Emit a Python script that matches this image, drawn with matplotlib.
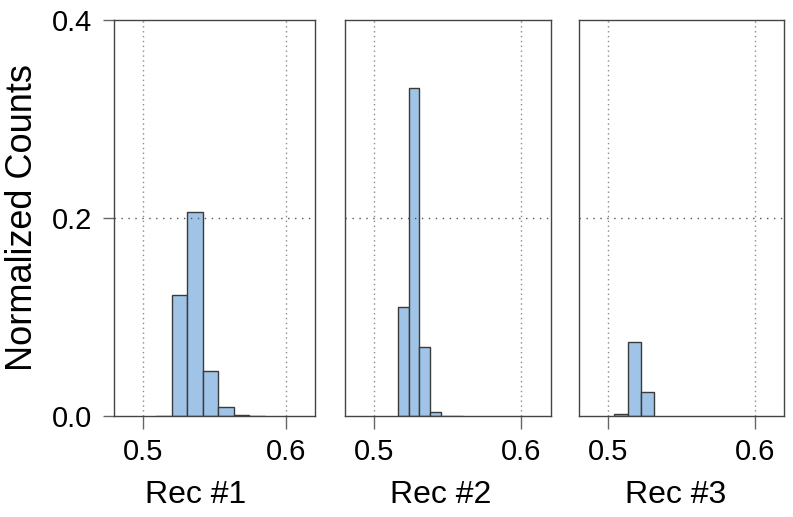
import matplotlib
matplotlib.use('Agg')
import matplotlib.pyplot as plt

plt.rcParams['font.family'] = ['Liberation Sans', 'DejaVu Sans']

# histogram data per record: left edge of first bin, bin width, normalized counts
rec_names = ['Rec #1', 'Rec #2', 'Rec #3']
rec1_start, rec1_width = 0.5095, 0.0108
rec1_counts = [0.0005, 0.122, 0.2057, 0.0458, 0.0088, 0.001, 0.0003]
rec2_start, rec2_width = 0.5159, 0.0074
rec2_counts = [0.1096, 0.331, 0.0695, 0.0037, 0.0004, 0.0002]
rec3_start, rec3_width = 0.5041, 0.009
rec3_counts = [0.002, 0.0748, 0.0245]

x_ticks = [0.5, 0.6]
y_ticks = [0.0, 0.2, 0.4]

recs = [(rec1_start, rec1_width, rec1_counts),
        (rec2_start, rec2_width, rec2_counts),
        (rec3_start, rec3_width, rec3_counts)]

W, H = 793, 517
fig = plt.figure(figsize=(W / 100, H / 100), dpi=100)

# panel boxes in pixels: left, right; label centres below them
boxes = [(114, 314.7), (345, 550.7), (579, 784.3)]
label_x = [196, 441, 676]
top, bottom = 20, 416

fill = '#a0c4e8'
edge = '#3a3a3a'

for i, ((x0, x1), (start, width, counts), name) in enumerate(zip(boxes, recs, rec_names)):
    ax = fig.add_axes([x0 / W, 1 - bottom / H, (x1 - x0) / W, (bottom - top) / H])
    lefts = [start + k * width for k in range(len(counts))]
    ax.bar(lefts, counts, width=width, align='edge', color=fill,
           edgecolor=edge, linewidth=1.0, zorder=2)
    for xv in x_ticks:
        ax.axvline(xv, color='#8a8a8a', lw=1.0, ls=(0, (1, 2.5)), zorder=3)
    ax.axhline(0.2, color='#555555', lw=1.0, ls=(0, (1, 4)), zorder=3)
    ax.set_xlim(0.48, 0.62)
    ax.set_ylim(0, 0.4)
    ax.set_xticks(x_ticks)
    ax.set_xticklabels(['0.5', '0.6'], fontsize=21)
    ax.tick_params(axis='x', length=9, width=1.0, color='#666666', pad=7)
    if i == 0:
        ax.set_yticks(y_ticks)
        ax.set_yticklabels(['0.0', '0.2', '0.4'], fontsize=21)
        ax.tick_params(axis='y', length=8, width=1.0, color='#666666', pad=8)
        ax.set_ylabel('Normalized Counts', fontsize=26, labelpad=8)
    else:
        ax.set_yticks([])
    fig.text(label_x[i] / W, 1 - 495 / H, name, fontsize=23,
             ha='center', va='center')
    for s in ax.spines.values():
        s.set_color('#444444')
        s.set_linewidth(1.0)
        s.set_zorder(4)

fig.savefig('out.png', dpi=100)
